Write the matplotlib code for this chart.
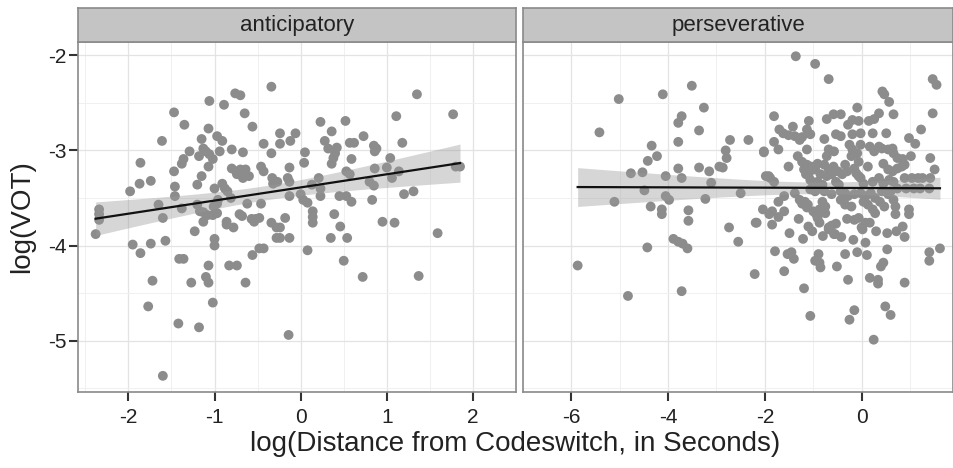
import numpy as np
import matplotlib
matplotlib.use("Agg")
import matplotlib.pyplot as plt

plt.rcParams['font.family'] = ['Liberation Sans', 'DejaVu Sans']
plt.rcParams['axes.unicode_minus'] = False

panel_titles = ["anticipatory", "perseverative"]
x_label = "log(Distance from Codeswitch, in Seconds)"
y_label = "log(VOT)"

antic_x = [-0.34,1.35,-0.76,-0.70,-1.06,-0.89,-1.47,-0.65,1.77,-1.35,-0.56,-1.07,0.23,0.52,1.11,0.36,-0.24,-0.06,0.73,-1.61,
           -1.15,-0.97,-0.91,-0.43,-0.24,-0.12,0.28,0.57,0.62,1.18,0.85,0.88,-1.13,-1.10,-1.06,-1.18,-1.02,-1.07,-0.94,-0.80,
           -0.67,-0.34,-1.29,0.05,0.42,0.40,0.38,0.36,0.32,0.04,-0.13,-1.86,-1.36,-1.38,-1.47,0.59,0.86,1.04,1.00,0.86,
           1.14,1.06,1.80,1.85,0.53,0.57,-0.80,-0.75,-0.74,-0.70,-0.64,-0.60,-0.67,-0.46,-0.43,-0.33,-0.32,-0.15,-0.13,-0.27,
           0.13,0.21,0.23,0.23,-1.15,-1.20,-1.87,-1.74,-1.98,-1.46,-1.46,-1.00,-0.91,-0.88,-0.85,0.80,0.85,1.20,1.31,-0.97,
           -0.96,-1.01,-0.81,-0.62,-0.46,-1.38,-1.20,-1.17,-1.65,-2.34,-2.34,-2.34,-0.13,0.00,0.03,0.08,0.14,0.45,0.53,0.59,
           0.83,-1.13,-1.08,-1.02,-0.97,-0.71,-0.57,-0.52,-0.86,-0.86,-0.78,-0.68,-0.54,-0.48,-0.34,-0.28,-0.28,-0.18,-0.24,-0.13,
           -0.24,0.14,0.14,0.39,0.46,0.35,0.54,0.95,1.09,-1.60,-1.13,-1.23,-2.38,-1.95,-1.86,-1.74,-1.57,-1.00,-1.00,1.59,
           -1.41,-1.36,-1.72,-1.27,-1.10,-1.07,-1.07,-0.83,-0.74,-0.64,-0.56,-0.48,-0.43,0.08,0.50,0.72,1.37,-1.77,-1.02,-1.42,
           -1.18,-0.14,-1.60]
antic_y = [-2.33,-2.41,-2.40,-2.42,-2.48,-2.52,-2.60,-2.61,-2.62,-2.73,-2.75,-2.77,-2.70,-2.69,-2.64,-2.80,-2.82,-2.82,-2.85,-2.90,
           -2.88,-2.85,-2.90,-2.93,-2.93,-2.90,-2.90,-2.92,-2.92,-2.92,-2.95,-2.98,-2.98,-3.01,-3.04,-3.06,-3.09,-3.17,-3.01,-2.99,
           -3.02,-3.03,-3.01,-3.02,-2.97,-3.03,-3.08,-3.14,-2.98,-3.13,-3.18,-3.13,-3.09,-3.14,-3.22,-3.09,-3.01,-3.08,-3.18,-3.19,
           -3.22,-3.29,-3.17,-3.17,-3.22,-3.25,-3.19,-3.22,-3.25,-3.20,-3.20,-3.27,-3.29,-3.17,-3.22,-3.29,-3.35,-3.29,-3.33,-3.33,
           -3.36,-3.29,-3.40,-3.48,-3.27,-3.36,-3.35,-3.32,-3.43,-3.38,-3.48,-3.40,-3.35,-3.40,-3.43,-3.33,-3.37,-3.46,-3.43,-3.56,
           -3.52,-3.59,-3.50,-3.56,-3.56,-3.61,-3.57,-3.64,-3.57,-3.62,-3.67,-3.73,-3.48,-3.46,-3.52,-3.55,-3.64,-3.48,-3.48,-3.54,
           -3.52,-3.65,-3.68,-3.68,-3.66,-3.67,-3.72,-3.72,-3.75,-3.78,-3.81,-3.69,-3.75,-3.71,-3.76,-3.81,-3.92,-3.71,-3.81,-3.92,
           -3.92,-3.70,-3.76,-3.67,-3.80,-3.92,-3.92,-3.75,-3.76,-3.71,-3.75,-3.85,-3.88,-3.99,-4.08,-3.98,-3.95,-3.93,-4.00,-3.87,
           -4.14,-4.14,-4.37,-4.39,-4.33,-4.39,-4.21,-4.21,-4.21,-4.39,-4.10,-4.03,-4.03,-4.05,-4.16,-4.33,-4.32,-4.64,-4.60,-4.82,
           -4.86,-4.94,-5.37]

persev_x = [-1.36,-0.96,-0.68,1.47,1.55,-3.51,-4.11,-5.02,0.43,0.47,0.57,1.47,0.66,-3.26,-3.72,-3.79,-5.42,-3.36,-3.79,-4.34,
            -4.23,-4.42,-4.77,-4.53,-3.79,-3.72,-4.05,-3.36,-3.15,-3.11,-2.94,-2.87,-2.81,-2.79,-2.72,-2.34,-2.02,-4.49,-5.11,-4.36,
            -4.13,-4.05,-3.98,-3.23,-3.58,-3.58,-2.74,-2.19,-4.13,
            -5.87,-4.83,-4.43,-3.89,-3.79,-3.70,-3.60,-3.72,-2.55,-2.21,-1.79,-1.60,-1.53,-1.45,-1.40,-1.49,-1.21,-1.19,-1.06,-1.02,
            -0.89,-0.96,-0.87,-0.85,-0.68,-0.55,-0.42,-0.51,-0.34,-0.28,-0.17,-0.15,-0.25,-0.09,0.02,0.08,0.11,0.17,0.34,0.34,
            0.25,0.40,0.45,0.53,0.53,0.49,0.60,0.72,0.89,0.89,1.40,1.40,1.62,-2.17,-1.85,-1.91,-0.91,-0.87,-0.94,-0.68,
            -0.62,-0.53,-0.57,-0.15,-0.06,0.00,0.08,0.17,0.85,0.70,0.98,-1.72,-1.30,-1.10,-0.80,-0.30,0.30,
            -1.81,-0.09,-0.72,-0.58,-0.43,-0.28,-0.19,-0.06,0.15,0.26,0.36,-1.42,-1.09,-1.13,-1.70,-1.62,-1.51,-1.38,-1.28,-1.23,
            -1.06,-0.77,-0.53,-0.43,-0.19,-0.02,0.23,0.51,0.98,1.11,1.23,-1.81,-1.72,-2.02,-1.13,-0.68,-0.57,-0.72,-0.25,-0.19,
            -0.09,-0.06,-0.02,-0.21,0.17,0.26,0.36,0.42,0.55,0.66,0.64,0.74,0.85,0.89,1.02,1.42,1.51,-1.32,-1.23,-1.13,
            -1.04,-0.96,-0.91,-1.19,-1.09,-1.51,-0.77,-0.68,-0.58,-0.49,-0.62,-0.72,-0.85,-0.34,-0.30,-0.40,-0.15,-0.11,-0.06,0.13,
            0.45,0.55,0.64,0.74,0.83,-1.98,-1.89,-1.81,-1.15,-1.06,-1.00,-0.91,-0.81,-0.53,-0.47,-0.02,0.04,0.23,0.36,0.45,
            0.57,0.66,0.89,1.04,1.17,1.26,1.42,0.92,1.08,1.21,1.40,-1.06,-0.96,-0.87,-0.77,-0.62,-0.43,-0.34,-0.28,-0.15,
            -0.02,0.09,0.19,0.28,0.42,0.55,0.60,0.74,-1.60,-1.72,-1.38,-1.28,-1.23,-1.13,-1.00,-0.81,-0.75,-0.87,-0.75,-0.43,
            -0.34,-0.21,0.04,0.13,0.23,0.28,0.38,0.47,0.66,0.70,0.98,-2.04,-1.85,-1.60,-1.92,-1.17,-1.11,-2.50]
persev_y = [-2.01,-2.09,-2.25,-2.25,-2.31,-2.32,-2.41,-2.46,-2.38,-2.41,-2.49,-2.61,-2.62,-2.55,-2.64,-2.71,-2.81,-2.79,-2.91,-2.95,
            -3.06,-3.11,-3.24,-3.23,-3.19,-3.29,-3.27,-3.18,-3.22,-3.34,-3.17,-3.18,-3.00,-3.08,-2.89,-2.89,-3.02,-3.42,-3.54,-3.59,
            -3.62,-3.48,-3.52,-3.51,-3.63,-3.74,-3.81,-3.76,-3.67,
            -4.21,-4.53,-4.02,-3.93,-3.96,-3.98,-4.03,-4.48,-3.96,-4.30,-4.06,-4.27,-4.09,-4.07,-4.14,-3.87,-3.93,-4.45,-4.74,-3.85,
            -4.09,-4.16,-4.18,-4.23,-3.83,-3.88,-3.91,-4.22,-4.09,-4.36,-3.94,-4.68,-4.78,-4.07,-3.83,-3.97,-4.10,-4.34,-4.36,-4.40,
            -4.99,-4.22,-4.18,-4.04,-3.87,-4.64,-4.73,-3.85,-3.91,-4.39,-4.07,-4.16,-4.03,-3.76,-3.78,-3.67,-3.71,-3.76,-3.67,-3.81,
            -3.79,-3.77,-3.88,-3.73,-3.71,-3.81,-3.76,-3.76,-3.80,-3.67,-3.67,-3.70,-3.72,-3.80,-3.90,-3.72,-3.85,
            -2.64,-2.55,-2.67,-2.62,-2.62,-2.73,-2.68,-2.69,-2.69,-2.67,-2.61,-2.75,-2.69,-2.78,-2.78,-2.82,-2.84,-2.85,-2.89,-2.86,
            -2.83,-2.88,-2.83,-2.85,-2.83,-2.82,-2.82,-2.82,-2.87,-2.93,-2.78,-2.91,-2.99,-3.01,-2.99,-2.99,-3.01,-3.06,-2.94,-2.99,
            -3.03,-3.12,-2.94,-3.06,-2.96,-3.01,-2.96,-2.98,-2.99,-3.03,-2.98,-3.08,-3.09,-3.15,-3.06,-3.08,-3.20,-3.06,-3.12,-3.15,
            -3.17,-3.20,-3.14,-3.20,-3.24,-3.17,-3.15,-3.20,-3.17,-3.22,-3.25,-3.27,-3.25,-3.15,-3.22,-3.25,-3.19,-3.24,-3.27,-3.17,
            -3.14,-3.20,-3.22,-3.19,-3.17,-3.27,-3.29,-3.33,-3.25,-3.31,-3.36,-3.33,-3.36,-3.33,-3.36,-3.29,-3.35,-3.33,-3.29,-3.35,
            -3.31,-3.33,-3.29,-3.29,-3.29,-3.29,-3.29,-3.40,-3.40,-3.40,-3.40,-3.41,-3.43,-3.40,-3.43,-3.46,-3.43,-3.45,-3.48,-3.46,
            -3.45,-3.48,-3.45,-3.50,-3.43,-3.46,-3.43,-3.40,-3.48,-3.54,-3.45,-3.52,-3.56,-3.60,-3.64,-3.54,-3.59,-3.62,-3.66,-3.52,
            -3.57,-3.59,-3.54,-3.57,-3.62,-3.66,-3.54,-3.59,-3.52,-3.59,-3.62,-3.62,-3.64,-3.64,-3.27,-3.54,-3.57,-3.45]

x_ticks = [[-2, -1, 0, 1, 2], [-6, -4, -2, 0]]
y_ticks = [-5, -4, -3, -2]
x_lims = [(-2.585, 2.07), (-6.245, 1.89)]
y_lim = (-5.54, -1.86)

W, H = 954, 468
fig = plt.figure(figsize=(W / 100, H / 100), dpi=100)

panel_px = [(78, 516), (523, 953)]
top_px, bot_px, strip_top_px = 42, 392, 8
frame_col = '#8a8a8a'
t_crit = 1.97

for i, (xs, ys) in enumerate([(antic_x, antic_y), (persev_x, persev_y)]):
    x0, x1 = panel_px[i]
    ax = fig.add_axes([x0 / W, 1 - bot_px / H, (x1 - x0) / W, (bot_px - top_px) / H])
    ax.set_xlim(*x_lims[i])
    ax.set_ylim(*y_lim)
    ax.set_xticks(x_ticks[i])
    ax.set_yticks(y_ticks)
    step = x_ticks[i][1] - x_ticks[i][0]
    mx = [x_ticks[i][0] - step / 2] + [t + step / 2 for t in x_ticks[i]]
    ax.set_xticks(mx, minor=True)
    ax.set_yticks([-5.5, -4.5, -3.5, -2.5], minor=True)
    ax.grid(which='major', color='#e3e3e3', lw=0.9)
    ax.grid(which='minor', color='#f0f0f0', lw=0.7)
    ax.set_axisbelow(True)
    ax.tick_params(which='minor', length=0)
    ax.tick_params(which='major', direction='out', length=6.5, width=1.5, color='#333333',
                   labelsize=15, labelcolor='#222222', pad=2)
    ax.tick_params(axis='x', which='major', pad=5)
    if i == 1:
        ax.tick_params(axis='y', which='both', left=False, labelleft=False)
    for s in ax.spines.values():
        s.set_color(frame_col)
        s.set_linewidth(1.2)

    xa = np.array(xs)
    ya = np.array(ys)
    ax.scatter(xa, ya, s=50, color='#8c8c8c', edgecolors='none', zorder=2)

    # linear fit with 95% confidence band
    n = len(xa)
    b1, b0 = np.polyfit(xa, ya, 1)
    resid = ya - (b0 + b1 * xa)
    s_err = np.sqrt(np.sum(resid ** 2) / (n - 2))
    xg = np.linspace(xa.min(), xa.max(), 100)
    yg = b0 + b1 * xg
    se = s_err * np.sqrt(1 / n + (xg - xa.mean()) ** 2 / np.sum((xa - xa.mean()) ** 2))
    ax.fill_between(xg, yg - t_crit * se, yg + t_crit * se, color='#999999', alpha=0.4, lw=0, zorder=3)
    ax.plot(xg, yg, color='#111111', lw=1.6, zorder=4)

    # strip
    sax = fig.add_axes([x0 / W, 1 - top_px / H, (x1 - x0) / W, (top_px - strip_top_px) / H])
    sax.set_facecolor('#c4c4c4')
    sax.set_xticks([])
    sax.set_yticks([])
    for s in sax.spines.values():
        s.set_color(frame_col)
        s.set_linewidth(1.2)
    sax.text(0.5, 0.5, panel_titles[i], ha='center', va='center', fontsize=16, color='#222222',
             transform=sax.transAxes)

fig.text((78 + 953) / 2 / W, 1 - 444 / H, x_label, ha='center', va='center', fontsize=20, color='#222222')
fig.text(22 / W, 1 - (top_px + bot_px) / 2 / H, y_label, ha='center', va='center', rotation=90,
         fontsize=20, color='#222222')

fig.savefig('out.png', dpi=100)
